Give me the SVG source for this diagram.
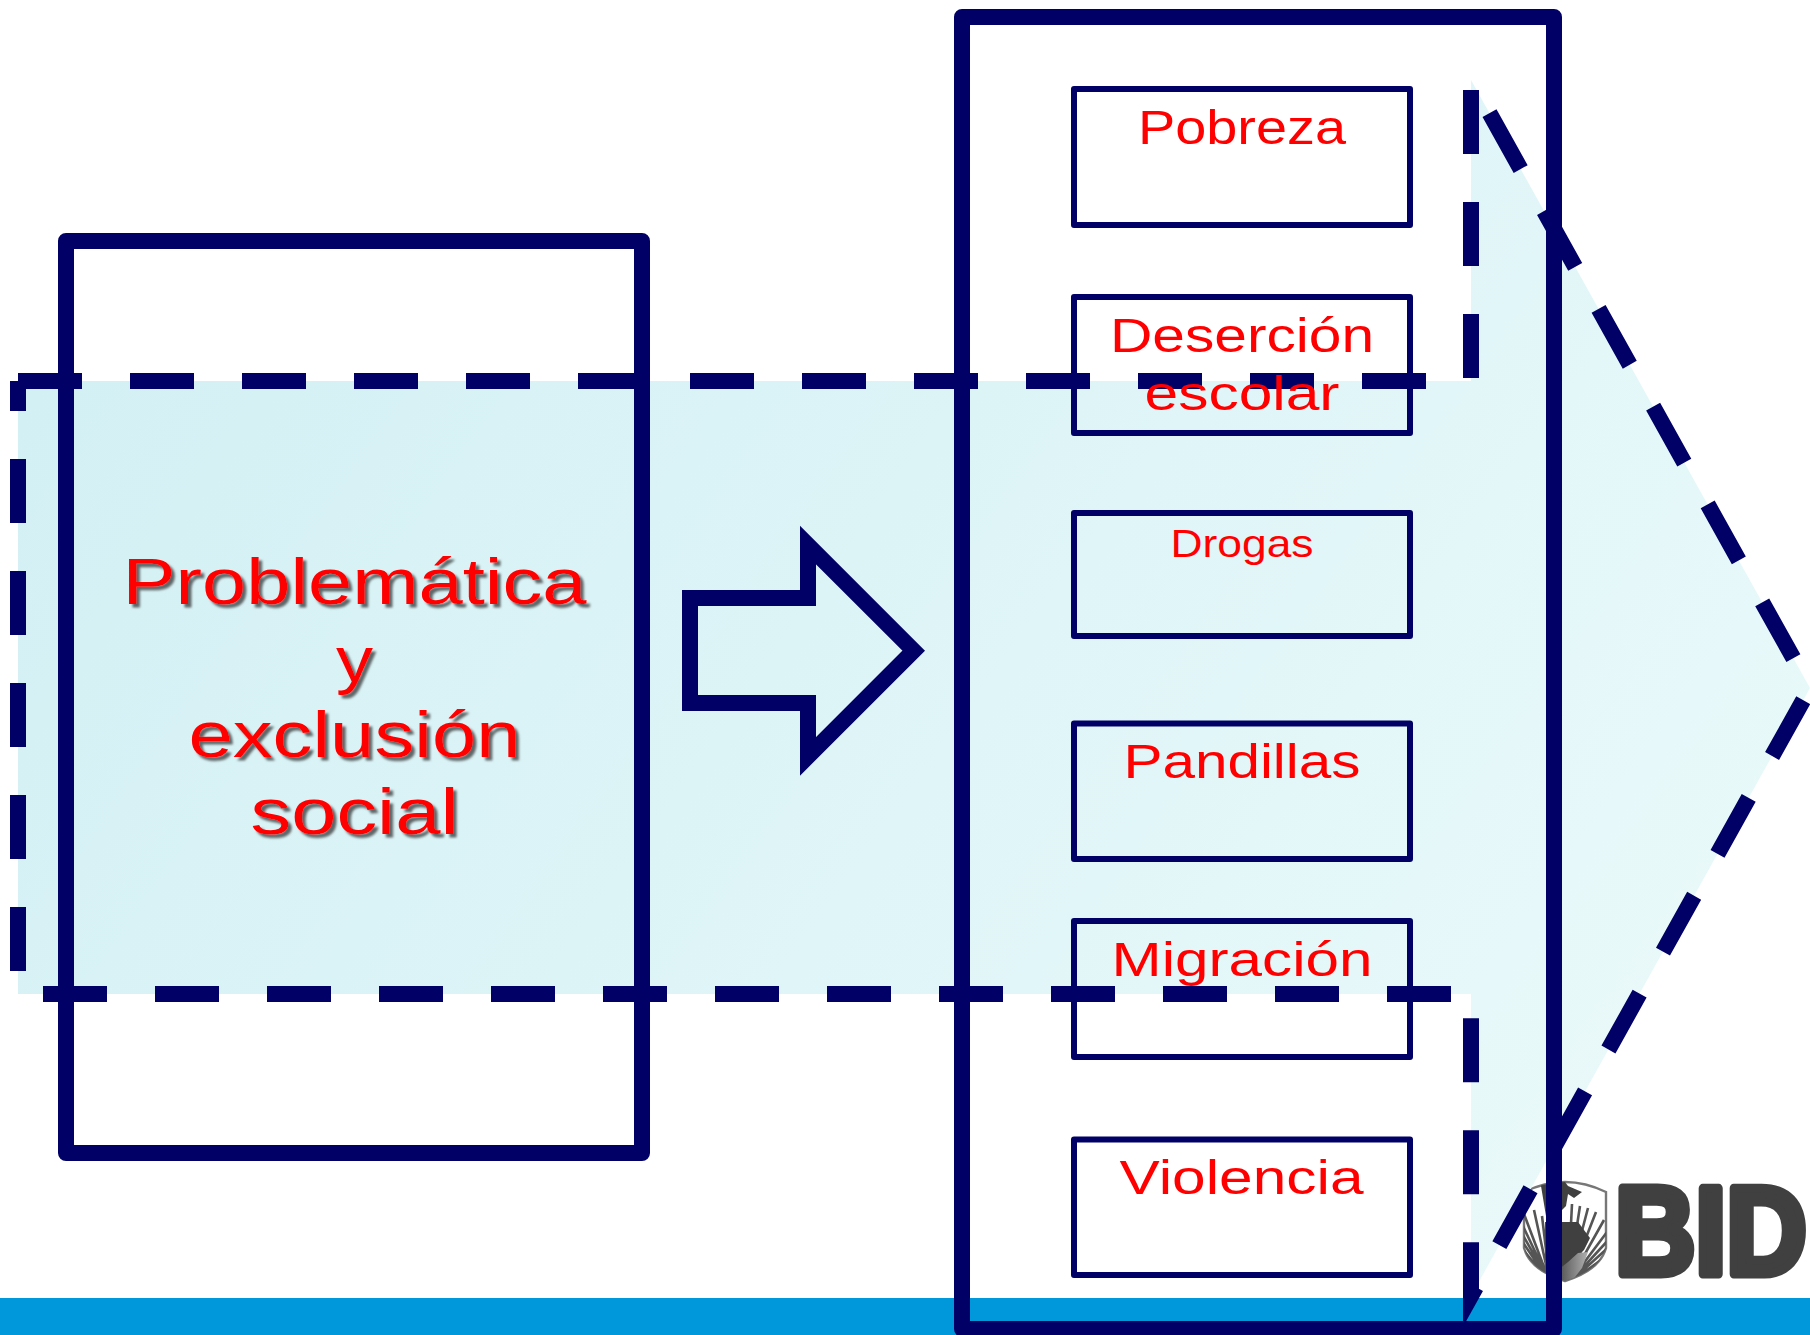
<svg xmlns="http://www.w3.org/2000/svg" width="1810" height="1335" viewBox="0 0 1810 1335">
<style>
.box{fill:none;stroke:#000066;stroke-linejoin:round}
.big{stroke-width:16}
.small{stroke-width:6}
.lbl{font-family:"Liberation Sans",Arial,sans-serif;fill:#ff0000;text-anchor:middle}
.s46{font-size:48px}
.title{font-size:65px;filter:url(#shadow)}
.ray{stroke:#555555;stroke-width:2.6;fill:none}
.dash{fill:none;stroke:#000066;stroke-width:16;stroke-dasharray:64 48;stroke-miterlimit:12}
</style>
<defs>
<linearGradient id="fillGrad" gradientUnits="userSpaceOnUse" x1="100" y1="300" x2="1500" y2="1300">
<stop offset="0" stop-color="#D3F0F4"/>
<stop offset="1" stop-color="#E9F9FA"/>
</linearGradient>
<linearGradient id="southGrad" x1="0" y1="0" x2="1" y2="0">
<stop offset="0" stop-color="#505050"/>
<stop offset="1" stop-color="#b0b0b0"/>
</linearGradient>
<filter id="shadow" x="-10%" y="-20%" width="120%" height="140%">
<feDropShadow dx="3.5" dy="3.5" stdDeviation="1.2" flood-color="#5f6668" flood-opacity="1"/>
</filter>
<filter id="soft" x="-5%" y="-5%" width="110%" height="110%"><feGaussianBlur stdDeviation="0.6"/></filter>
<clipPath id="shieldClip"><path d="M1524 1192Q1565 1172 1606 1192L1606 1248Q1600 1270 1565 1281Q1530 1270 1524 1248Z"/></clipPath>
</defs>
<rect width="1810" height="1335" fill="#ffffff"/>
<rect id="band" x="0" y="1298" width="1810" height="37" fill="#0098DA"/>
<g id="logo">
<g filter="url(#soft)">
<path d="M1524 1192Q1565 1172 1606 1192L1606 1248Q1600 1270 1565 1281Q1530 1270 1524 1248Z" fill="#ffffff" stroke="#777777" stroke-width="2.4"/>
<g clip-path="url(#shieldClip)">
<path class="ray" d="M1550 1283L1524 1214M1550 1283L1521 1222M1550 1283L1520 1230M1550 1283L1520 1238M1550 1283L1520 1246M1550 1283L1520 1254M1550 1283L1524 1262M1550 1283L1530 1270M1550 1283L1534 1210M1550 1283L1542 1216"/>
<path class="ray" d="M1568 1284L1572 1204M1568 1284L1580 1206M1568 1284L1588 1208M1568 1284L1596 1212M1568 1284L1604 1220M1568 1284L1610 1228M1568 1284L1612 1236M1568 1284L1612 1244M1568 1284L1612 1252M1568 1284L1610 1260M1568 1284L1604 1268"/>
<path d="M1540 1180L1562 1178L1568 1186L1582 1192L1574 1198L1568 1194L1566 1206L1558 1214L1546 1216Z" fill="#404040"/>
<path d="M1545 1222L1578 1222L1590 1238L1584 1250L1576 1258L1572 1268L1560 1270L1545 1260Z" fill="#404040"/>
<path d="M1568 1262L1578 1253L1588 1252L1582 1268L1572 1281L1558 1281L1558 1270Z" fill="url(#southGrad)"/>
</g>
</g>
<text transform="translate(1615 1273.5) scale(0.89 1)" font-family="'Liberation Sans',Arial,sans-serif" font-size="125" font-weight="700" fill="#404040" stroke="#404040" stroke-width="9" stroke-linejoin="round">BID</text>
</g>
<g id="connectors">
<path id="flow-arrow" d="M18 381H1471V80L1810 688L1471 1296V994H18Z" fill="url(#fillGrad)" stroke="none"/>
<path id="flow-arrow-outline-a" class="dash" d="M18 381H1471V80L1810 688L1471 1296V994"/>
<path id="flow-arrow-outline-b" class="dash" stroke-dashoffset="92" d="M1471 994H18V381"/>
<path id="block-arrow" d="M690 598H808V545L913.7 650.7L808 756.4V703H690Z" fill="none" stroke="#000066" stroke-width="16" stroke-miterlimit="10"/>
</g>
<g id="node-problematica">
<rect class="box big" x="66" y="241" width="576" height="912"/>
<text class="lbl title" x="354.5" y="604" textLength="464" lengthAdjust="spacingAndGlyphs">Problemática</text>
<text class="lbl title" x="354.5" y="682" textLength="37" lengthAdjust="spacingAndGlyphs">y</text>
<text class="lbl title" x="354.5" y="757" textLength="332" lengthAdjust="spacingAndGlyphs">exclusión</text>
<text class="lbl title" x="354.5" y="834" textLength="208" lengthAdjust="spacingAndGlyphs">social</text>
</g>
<g id="node-factores">
<rect class="box big" x="962" y="17" width="592" height="1312"/>
</g>
<g id="node-pobreza">
<rect class="box small" x="1074" y="89" width="336" height="136"/>
<text class="lbl s46" x="1242" y="144" textLength="208" lengthAdjust="spacingAndGlyphs">Pobreza</text>
</g>
<g id="node-desercion">
<rect class="box small" x="1074" y="297" width="336" height="136"/>
<text class="lbl s46" x="1242" y="352" textLength="264" lengthAdjust="spacingAndGlyphs">Deserción</text>
<text class="lbl s46" x="1242" y="410" textLength="195" lengthAdjust="spacingAndGlyphs">escolar</text>
</g>
<g id="node-drogas">
<rect class="box small" x="1074" y="513" width="336" height="123"/>
<text class="lbl" font-size="38.5" x="1242" y="557" textLength="143" lengthAdjust="spacingAndGlyphs">Drogas</text>
</g>
<g id="node-pandillas">
<rect class="box small" x="1074" y="723.5" width="336" height="135.5"/>
<text class="lbl s46" x="1242" y="778" textLength="237" lengthAdjust="spacingAndGlyphs">Pandillas</text>
</g>
<g id="node-migracion">
<rect class="box small" x="1074" y="921" width="336" height="136"/>
<text class="lbl s46" x="1242" y="976" textLength="261" lengthAdjust="spacingAndGlyphs">Migración</text>
</g>
<g id="node-violencia">
<rect class="box small" x="1074" y="1139.5" width="336" height="135.5"/>
<text class="lbl s46" x="1241.5" y="1194" textLength="244" lengthAdjust="spacingAndGlyphs">Violencia</text>
</g>
</svg>
